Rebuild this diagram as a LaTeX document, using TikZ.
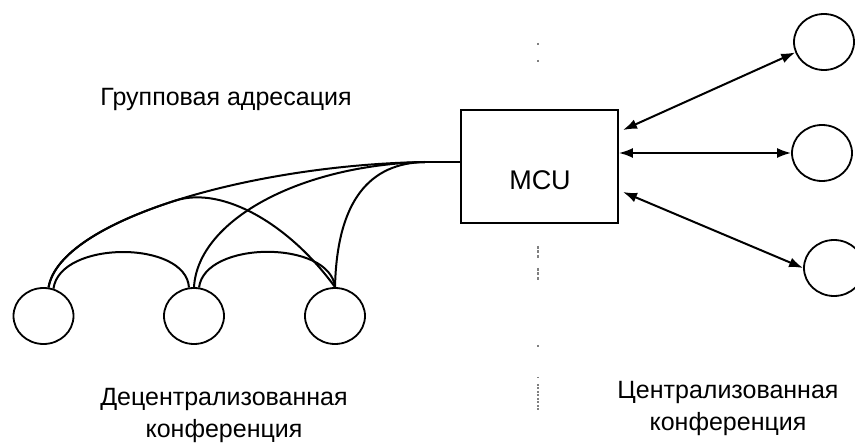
\documentclass[tikz,border=0pt]{standalone}
\usepackage{fontspec}
\setmainfont{Liberation Sans}
\usetikzlibrary{arrows.meta,shapes.geometric}
\begin{document}
\begin{tikzpicture}[x=1pt,y=-1pt,
  station/.style={draw, ellipse, minimum width=60pt, minimum height=56pt, inner sep=0pt, line width=1.8pt},
  unit/.style={draw, rectangle, minimum width=157pt, minimum height=113pt, inner sep=0pt, line width=1.8pt},
  txt/.style={font=\fontsize{25}{32}\selectfont, align=center, inner sep=0pt},
  link/.style={line width=2pt},
  duplex/.style={line width=2pt, {Latex[length=14pt,width=10pt]}-{Latex[length=14pt,width=10pt]}},
  divider/.style={line width=1.2pt, black!50}
]
\useasboundingbox (0,0) rectangle (855,443);

% multipoint control unit
\node[unit] (mcu) at (539.5,166.5) {};
\node[txt, font=\fontsize{27}{32}\selectfont] (mcutext) at (540,180) {MCU};

% terminals of the decentralized conference
\node[station] (A) at (43.5,316) {};
\node[station] (B) at (194,316) {};
\node[station] (C) at (335,316) {};

% terminals of the centralized conference
\node[station] (r1) at (824,42) {};
\node[station] (r2) at (822,153) {};
\node[station] (r3) at (834,268) {};

% junction points of the multicast lines
\coordinate (J) at (425,162);
\coordinate (K) at (175.4,200.6);

% multicast mesh
\draw[link] (J) -- (J -| mcu.west);
\draw[link] (A.80) .. controls (60,220) and (250,165) .. (J);
\draw[link] (A.80) .. controls (54,254) and (104.5,223.25) .. (K)
                   .. controls (223,185.4) and (290,225) .. (C.90);
\draw[link] (B.90) .. controls (198,220) and (300,165) .. (J);
\draw[link] (C.90) .. controls (337,200) and (370,163) .. (J);
\draw[link] (A.70) .. controls (60,240) and (186,240) .. (B.100);
\draw[link] (B.80) .. controls (205,240) and (330,240) .. (C.90);

% two-way links to the MCU
\coordinate (m1) at (623,130);
\coordinate (m3) at (623,192);
\draw[duplex] (m1) -- (r1.200);
\draw[duplex] (r2.west -| mcu.east) -- (r2.west);
\draw[duplex] (m3) -- (r3.west);

% faint separator between the two schemes
\draw[divider] (538,43) -- (538,45);
\draw[divider] (538,60) -- (538,62);
\draw[divider, dash pattern=on 3pt off 1.5pt] (538,246) -- (538,258);
\draw[divider, dash pattern=on 3pt off 1.5pt] (538,268) -- (538,280);
\draw[divider] (538,345) -- (538,347);
\draw[divider] (538,377) -- (538,378.5);
\draw[divider, dash pattern=on 2pt off 1.5pt] (538,384) -- (538,412);

% captions
\node[txt] (group) at (226,99) {Групповая адресация};
\node[txt] (decent) at (224,415) {Децентрализованная\\конференция};
\node[txt] (cent) at (728,408) {Централизованная\\конференция};
\end{tikzpicture}
\end{document}
